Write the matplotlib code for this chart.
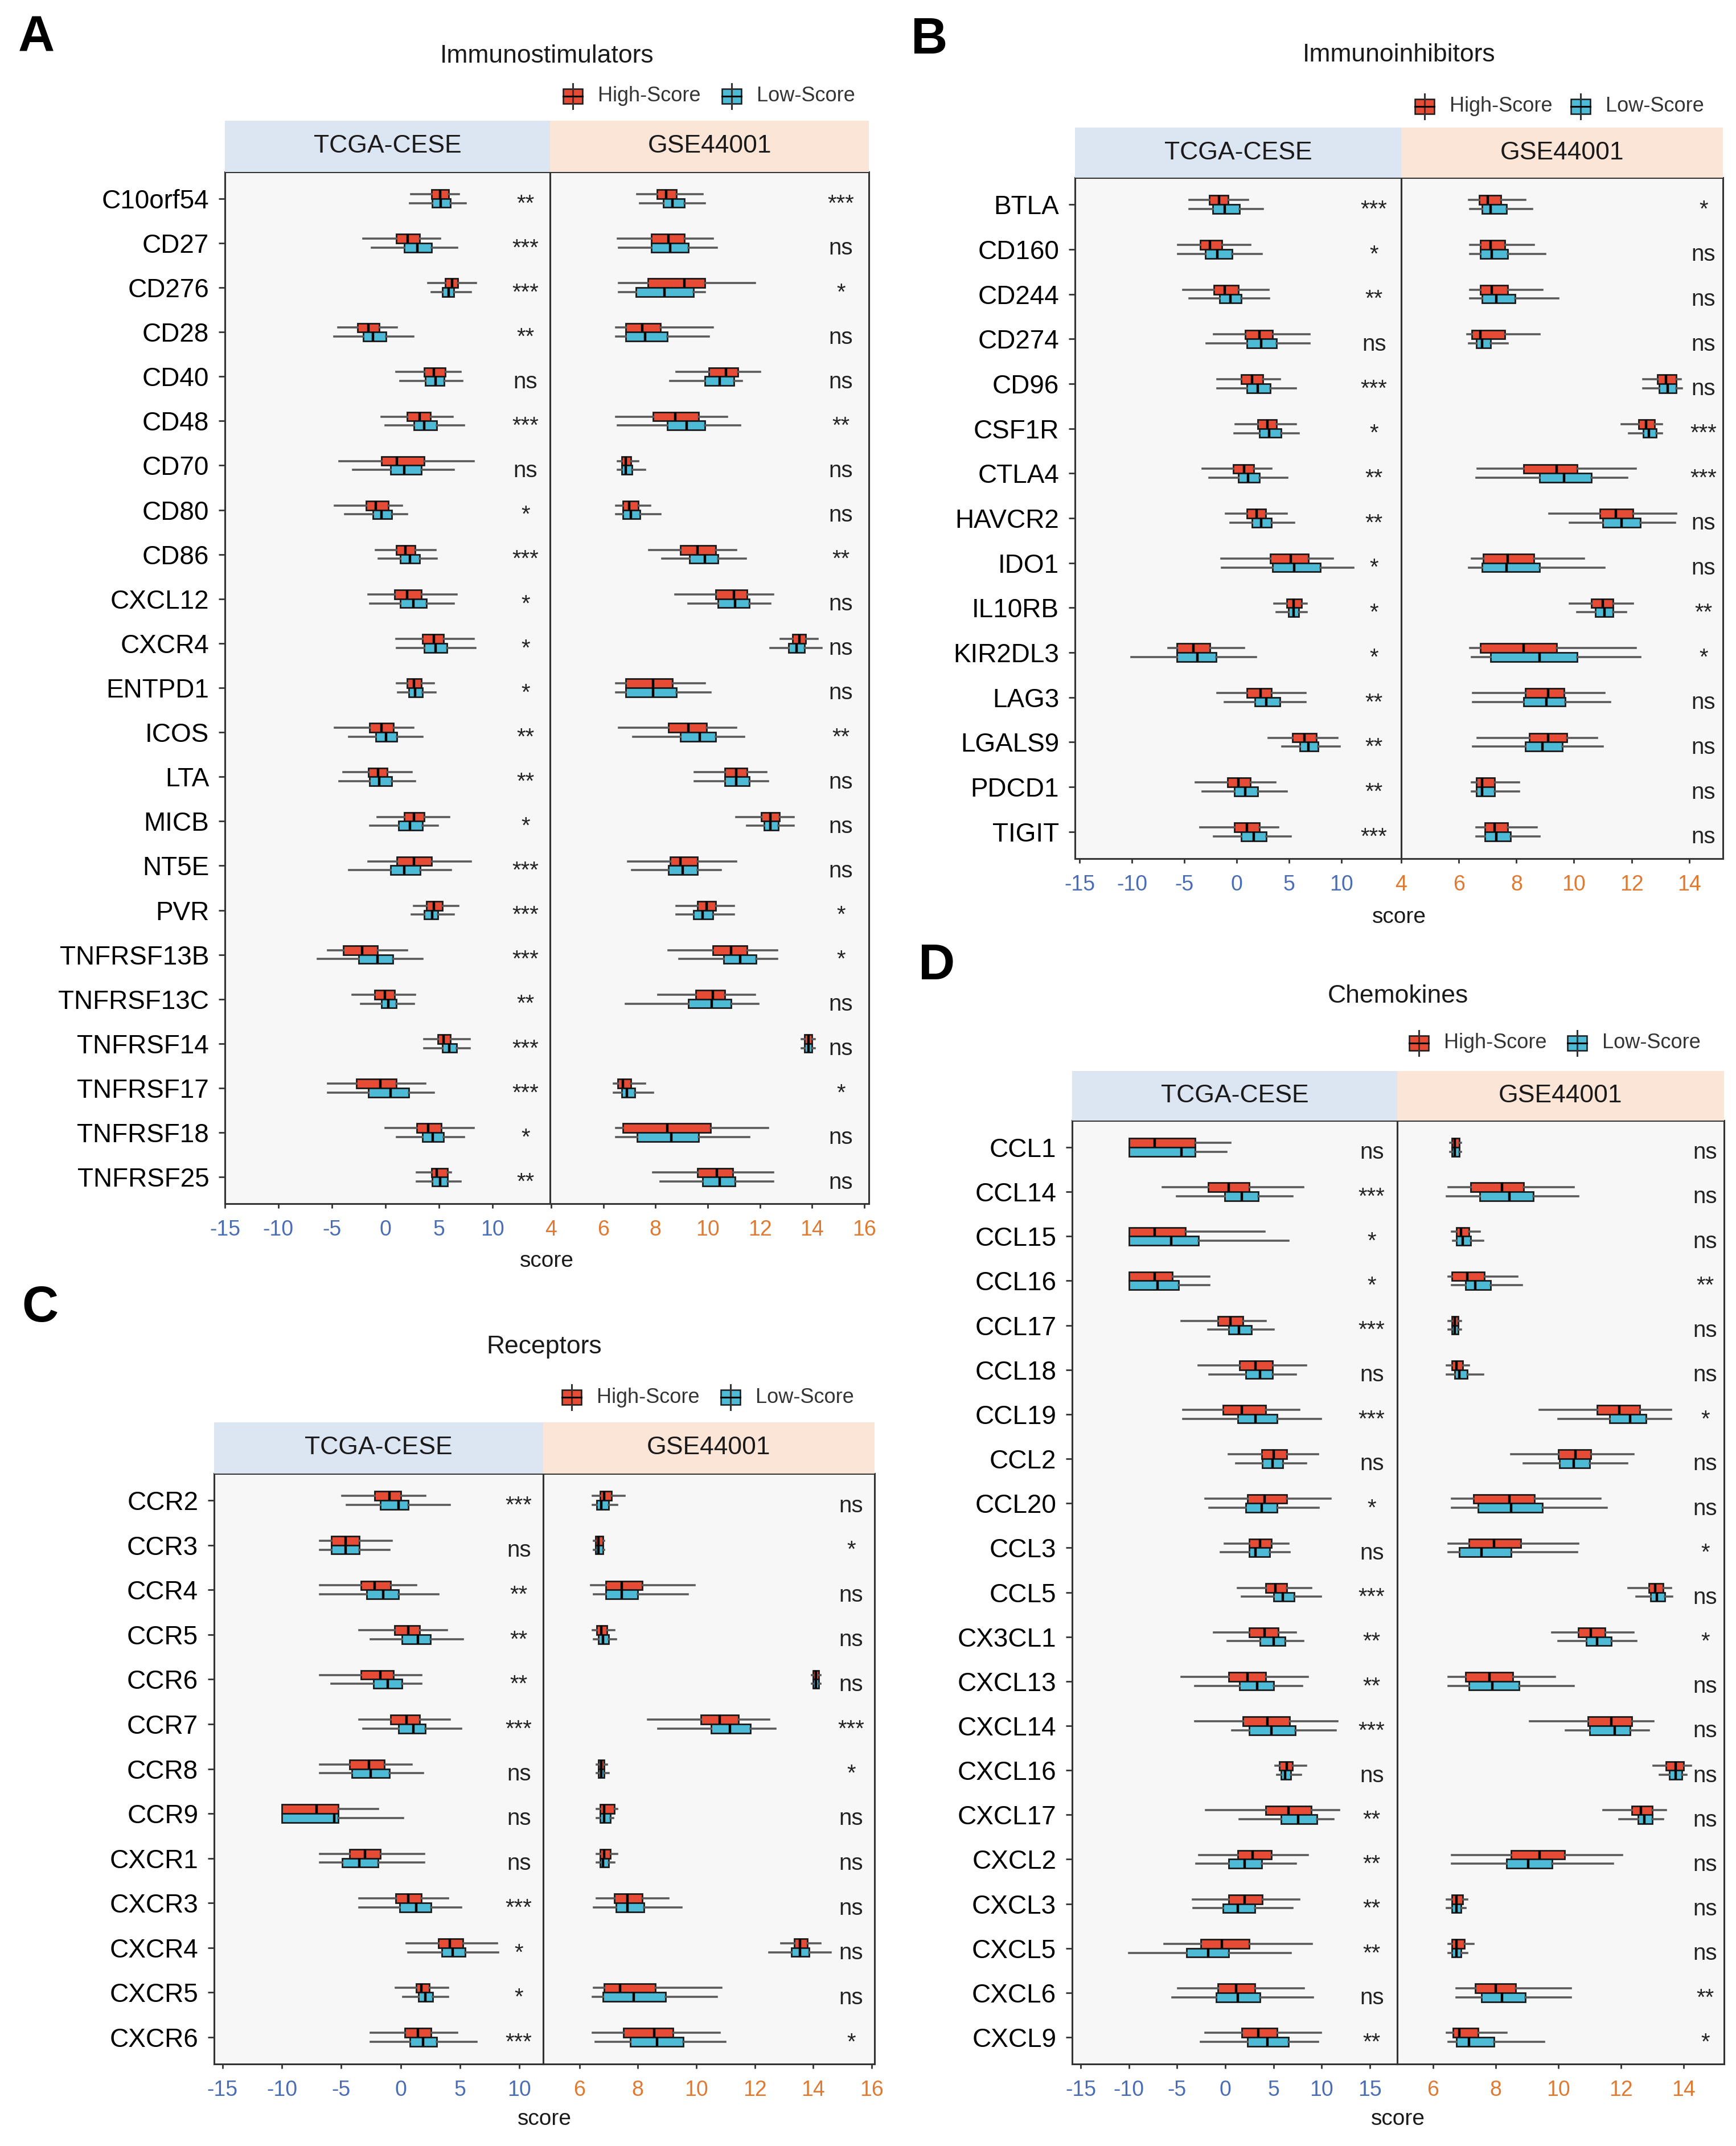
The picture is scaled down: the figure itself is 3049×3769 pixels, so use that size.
import numpy as np
import matplotlib
matplotlib.use('Agg')
import matplotlib.pyplot as plt
from matplotlib.patches import Rectangle
from matplotlib.lines import Line2D

plt.rcParams['font.family'] = ['Liberation Sans', 'DejaVu Sans']
plt.rcParams['axes.unicode_minus'] = False

# ---------------- DATA (lo whisker, Q1, median, Q3, hi whisker) ----------------
A_GENES = ["C10orf54", "CD27", "CD276", "CD28", "CD40", "CD48", "CD70", "CD80", "CD86",
           "CXCL12", "CXCR4", "ENTPD1", "ICOS", "LTA", "MICB", "NT5E", "PVR", "TNFRSF13B",
           "TNFRSF13C", "TNFRSF14", "TNFRSF17", "TNFRSF18", "TNFRSF25"]
A_SIG_TCGA = ["**", "***", "***", "**", "ns", "***", "ns", "*", "***", "*", "*", "*", "**", "**",
              "*", "***", "***", "***", "**", "***", "***", "*", "**"]
A_SIG_GSE = ["***", "ns", "*", "ns", "ns", "**", "ns", "ns", "**", "ns", "ns", "ns", "**", "ns",
             "ns", "ns", "*", "*", "ns", "ns", "*", "ns", "ns"]
A_TCGA_HIGH = [(2.4, 4.3, 5.1, 5.9, 6.9), (-2.05, 1.0, 2.1, 3.2, 5.1), (4.0, 5.6, 6.25, 6.8, 8.5),
               (-4.4, -2.6, -1.6, -0.57, 1.1), (1.0, 3.65, 4.55, 5.6, 7.05), (-0.35, 2.05, 3.2, 4.2, 6.3),
               (-4.3, -0.35, 1.1, 3.65, 8.25), (-4.7, -1.8, -0.9, 0.3, 1.55), (-0.9, 1.0, 1.9, 2.8, 4.7),
               (-1.6, 0.85, 2.05, 3.35, 6.65), (1.0, 3.5, 4.55, 5.45, 8.25), (1.1, 2.05, 2.7, 3.35, 4.55),
               (-4.7, -1.5, -0.35, 0.75, 2.6), (-3.9, -1.6, -0.7, 0.15, 2.45), (-0.75, 1.75, 2.7, 3.65, 5.95),
               (-1.6, 1.1, 2.7, 4.3, 8.0), (2.7, 3.85, 4.55, 5.35, 6.85), (-5.35, -3.9, -2.15, -0.73, 2.05),
               (-3.1, -1.0, -0.05, 0.85, 2.8), (3.65, 4.9, 5.45, 6.1, 7.9), (-5.35, -2.7, -0.45, 1.0, 3.75),
               (0.0, 2.95, 4.0, 5.25, 8.25), (2.95, 4.3, 4.8, 5.8, 6.15)]
A_TCGA_LOW = [(2.3, 4.4, 5.2, 6.1, 7.5), (-1.25, 1.75, 3.0, 4.3, 6.7), (4.3, 5.35, 5.9, 6.4, 8.0),
              (-4.8, -2.05, -1.15, 0.06, 2.6), (1.4, 3.75, 4.7, 5.5, 7.2), (0.0, 2.7, 3.65, 4.8, 7.35),
              (-3.0, 0.5, 1.75, 3.35, 6.4), (-3.75, -1.15, -0.35, 0.6, 2.05), (-0.6, 1.4, 2.3, 3.2, 4.8),
              (-1.4, 1.4, 2.6, 3.85, 6.4), (1.1, 3.65, 4.7, 5.75, 8.4), (1.2, 2.2, 2.8, 3.5, 4.7),
              (-3.4, -0.9, 0.05, 1.1, 3.5), (-4.3, -1.5, -0.55, 0.6, 2.8), (-1.4, 1.25, 2.3, 3.5, 4.9),
              (-3.4, 0.5, 1.75, 3.25, 6.15), (2.45, 3.65, 4.4, 4.9, 6.4), (-6.3, -2.5, -0.75, 0.7, 3.5),
              (-2.3, -0.35, 0.3, 1.0, 2.7), (3.65, 5.35, 6.0, 6.65, 7.9), (-5.35, -1.6, 0.5, 2.2, 4.55),
              (1.1, 3.5, 4.45, 5.45, 7.35), (2.95, 4.4, 5.1, 5.8, 7.05)]
A_GSE_HIGH = [(7.3, 8.05, 8.4, 8.8, 9.8), (6.55, 7.85, 8.5, 9.1, 10.2), (6.6, 7.7, 9.1, 9.9, 11.8),
              (6.5, 6.85, 7.5, 8.2, 10.2), (8.8, 10.05, 10.7, 11.15, 12.0), (6.5, 7.9, 8.75, 9.65, 10.75),
              (6.55, 6.7, 6.85, 7.05, 7.35), (6.5, 6.75, 7.0, 7.35, 7.8), (7.75, 8.95, 9.6, 10.3, 11.1),
              (8.75, 10.3, 11.0, 11.5, 12.5), (12.8, 13.25, 13.5, 13.75, 14.2), (6.5, 6.85, 7.9, 8.65, 9.9),
              (6.6, 8.5, 9.25, 9.95, 11.1), (9.5, 10.65, 11.1, 11.5, 12.25), (11.1, 12.05, 12.4, 12.75, 13.3),
              (6.95, 8.55, 8.95, 9.6, 11.1), (8.8, 9.6, 9.95, 10.3, 11.0), (8.5, 10.2, 10.9, 11.5, 12.65),
              (8.1, 9.55, 10.2, 10.65, 11.8), (13.6, 13.7, 13.85, 14.0, 14.1), (6.4, 6.55, 6.75, 7.05, 7.6),
              (6.5, 6.75, 8.45, 10.1, 12.3), (7.9, 9.6, 10.35, 10.95, 12.5)]
A_GSE_LOW = [(7.4, 8.3, 8.65, 9.1, 9.9), (6.6, 7.85, 8.55, 9.25, 10.35), (6.6, 7.25, 8.35, 9.45, 9.9),
             (6.5, 6.85, 7.6, 8.45, 10.05), (8.55, 9.9, 10.45, 11.0, 11.3), (6.55, 8.45, 9.2, 9.9, 11.25),
             (6.55, 6.7, 6.85, 7.1, 7.6), (6.5, 6.75, 7.05, 7.4, 8.2), (8.25, 9.3, 9.9, 10.4, 11.45),
             (9.25, 10.4, 11.05, 11.6, 12.4), (12.4, 13.1, 13.4, 13.7, 14.35), (6.5, 6.85, 7.9, 8.8, 10.1),
             (7.15, 8.95, 9.7, 10.3, 11.4), (9.5, 10.65, 11.1, 11.6, 12.3), (11.5, 12.15, 12.4, 12.7, 13.3),
             (7.1, 8.5, 9.05, 9.6, 10.5), (8.8, 9.45, 9.8, 10.2, 11.0), (8.9, 10.6, 11.25, 11.85, 12.65),
             (6.85, 9.25, 10.15, 10.9, 11.95), (13.6, 13.7, 13.85, 14.0, 14.1), (6.4, 6.7, 6.9, 7.2, 7.9),
             (6.5, 7.3, 8.6, 9.65, 11.6), (8.2, 9.8, 10.45, 11.05, 12.5)]

B_GENES = ["BTLA", "CD160", "CD244", "CD274", "CD96", "CSF1R", "CTLA4", "HAVCR2", "IDO1",
           "IL10RB", "KIR2DL3", "LAG3", "LGALS9", "PDCD1", "TIGIT"]
B_SIG_TCGA = ["***", "*", "**", "ns", "***", "*", "**", "**", "*", "*", "*", "**", "**", "**", "***"]
B_SIG_GSE = ["*", "ns", "ns", "ns", "ns", "***", "***", "ns", "ns", "**", "*", "ns", "ns", "ns", "ns"]
B_TCGA_HIGH = [(-4.55, -2.6, -1.7, -0.8, 1.1), (-5.6, -3.5, -2.55, -1.4, 1.3), (-5.1, -2.2, -1.15, 0.15, 3.05),
               (-2.2, 0.8, 2.15, 3.4, 6.95), (-1.85, 0.4, 1.45, 2.5, 4.1), (-0.1, 2.0, 2.9, 3.8, 5.65),
               (-3.25, -0.35, 0.7, 1.6, 3.3), (-1.05, 0.95, 1.9, 2.75, 4.75), (-1.5, 3.2, 5.15, 6.85, 9.15),
               (3.55, 4.75, 5.4, 6.2, 6.7), (-6.55, -5.7, -4.15, -2.55, 0.7), (-1.85, 0.95, 2.25, 3.3, 6.55),
               (3.05, 5.3, 6.45, 7.6, 9.6), (-3.9, -0.9, 0.15, 1.3, 3.7), (-3.5, -0.25, 0.95, 2.15, 3.95)]
B_TCGA_LOW = [(-4.55, -2.3, -1.15, 0.25, 2.5), (-5.6, -3.0, -1.85, -0.45, 2.4), (-4.55, -1.65, -0.6, 0.4, 3.1),
              (-2.9, 0.95, 2.35, 3.8, 6.95), (-1.85, 0.95, 2.0, 3.2, 5.65), (-0.25, 2.15, 3.1, 4.25, 5.9),
              (-2.6, 0.15, 1.1, 2.15, 4.85), (-0.6, 1.45, 2.35, 3.3, 5.5), (-1.4, 3.4, 5.5, 8.0, 11.15),
              (3.8, 4.95, 5.4, 5.9, 6.7), (-10.05, -5.7, -3.75, -1.95, 1.85), (-1.15, 1.75, 2.8, 4.1, 6.55),
              (4.35, 6.0, 6.85, 7.75, 9.85), (-3.25, -0.25, 0.8, 2.0, 4.75), (-2.2, 0.4, 1.6, 2.8, 5.15)]
B_GSE_HIGH = [(6.35, 6.7, 7.0, 7.45, 8.3), (6.4, 6.75, 7.1, 7.6, 8.6), (6.4, 6.75, 7.15, 7.7, 8.9),
              (6.3, 6.45, 6.75, 7.6, 8.8), (12.4, 12.9, 13.2, 13.55, 13.7), (11.65, 12.25, 12.5, 12.8, 13.05),
              (6.65, 8.25, 9.4, 10.1, 12.15), (9.15, 10.9, 11.45, 12.05, 13.55), (6.45, 6.85, 7.7, 8.6, 10.35),
              (9.85, 10.6, 11.0, 11.35, 12.05), (6.4, 6.75, 8.25, 9.4, 12.15), (6.5, 8.3, 9.1, 9.65, 11.05),
              (6.65, 8.45, 9.1, 9.75, 10.8), (6.45, 6.6, 6.8, 7.25, 8.1), (6.6, 6.9, 7.25, 7.7, 8.7)]
B_GSE_LOW = [(6.4, 6.8, 7.1, 7.65, 8.55), (6.4, 6.75, 7.15, 7.7, 9.0), (6.4, 6.8, 7.3, 7.95, 9.45),
             (6.35, 6.6, 6.8, 7.1, 7.7), (12.4, 12.95, 13.25, 13.55, 13.75), (11.9, 12.4, 12.6, 12.85, 13.05),
             (6.6, 8.8, 9.65, 10.6, 11.85), (9.85, 11.0, 11.65, 12.3, 13.5), (6.35, 6.8, 7.65, 8.8, 11.05),
             (10.1, 10.75, 11.05, 11.35, 11.8), (6.45, 7.1, 8.8, 10.1, 12.3), (6.5, 8.25, 9.05, 9.7, 11.25),
             (6.5, 8.3, 8.9, 9.6, 11.0), (6.45, 6.6, 6.8, 7.25, 8.1), (6.6, 6.9, 7.3, 7.8, 8.8)]

C_GENES = ["CCR2", "CCR3", "CCR4", "CCR5", "CCR6", "CCR7", "CCR8", "CCR9", "CXCR1", "CXCR3",
           "CXCR4", "CXCR5", "CXCR6"]
C_SIG_TCGA = ["***", "ns", "**", "**", "**", "***", "ns", "ns", "ns", "***", "*", "*", "***"]
C_SIG_GSE = ["ns", "*", "ns", "ns", "ns", "***", "*", "ns", "ns", "ns", "ns", "ns", "*"]
C_TCGA_HIGH = [(-4.9, -2.2, -0.95, 0.0, 2.1), (-6.8, -5.85, -4.65, -3.5, -0.75), (-6.8, -3.35, -2.2, -0.85, 1.3),
               (-3.5, -0.5, 0.65, 1.6, 3.9), (-6.8, -3.35, -1.7, -0.6, 1.75), (-3.5, -0.85, 0.5, 1.6, 4.15),
               (-6.8, -4.3, -2.65, -1.35, 0.95), (-10.0, -10.0, -7.05, -5.25, -1.9), (-6.8, -4.3, -3.0, -1.7, 2.0),
               (-3.5, -0.4, 0.65, 1.75, 4.0), (0.5, 3.2, 4.15, 5.25, 8.1), (-0.4, 1.3, 1.75, 2.4, 4.0),
               (-2.5, 0.35, 1.45, 2.55, 4.75)]
C_TCGA_LOW = [(-4.55, -1.7, -0.15, 0.65, 4.15), (-6.8, -5.85, -4.65, -3.5, -0.95), (-6.8, -2.85, -1.45, -0.15, 3.2),
              (-2.5, 0.1, 1.45, 2.5, 5.25), (-5.85, -2.3, -1.1, 0.1, 1.75), (-3.15, -0.15, 1.05, 2.1, 5.1),
              (-6.8, -4.1, -2.5, -0.95, 1.9), (-10.0, -10.0, -5.6, -5.25, 0.2), (-6.8, -4.9, -3.5, -1.9, 2.0),
              (-3.5, -0.1, 1.3, 2.55, 5.1), (0.65, 3.45, 4.4, 5.45, 8.2), (0.2, 1.5, 2.1, 2.7, 4.0),
              (-2.5, 0.8, 1.9, 3.05, 6.4)]
C_GSE_HIGH = [(6.45, 6.7, 6.85, 7.1, 7.55), (6.5, 6.55, 6.65, 6.8, 6.85), (6.4, 6.9, 7.45, 8.15, 9.95),
              (6.45, 6.6, 6.75, 6.95, 7.2), (13.95, 14.0, 14.1, 14.2, 14.25), (8.35, 10.15, 10.8, 11.45, 12.5),
              (6.6, 6.65, 6.75, 6.85, 6.95), (6.6, 6.7, 6.85, 7.2, 7.3), (6.6, 6.7, 6.85, 7.05, 7.3),
              (6.6, 7.2, 7.65, 8.15, 9.05), (12.9, 13.35, 13.55, 13.8, 14.25), (6.5, 6.85, 7.4, 8.6, 10.85),
              (6.45, 7.5, 8.55, 9.2, 10.8)]
C_GSE_LOW = [(6.45, 6.6, 6.75, 7.0, 7.3), (6.5, 6.55, 6.65, 6.8, 6.85), (6.5, 6.9, 7.45, 8.0, 9.7),
             (6.5, 6.65, 6.8, 7.0, 7.25), (13.95, 14.0, 14.1, 14.2, 14.25), (8.7, 10.5, 11.15, 11.85, 12.7),
             (6.6, 6.65, 6.75, 6.85, 7.0), (6.6, 6.7, 6.85, 7.05, 7.15), (6.6, 6.7, 6.8, 7.0, 7.2),
             (6.5, 7.25, 7.65, 8.2, 9.5), (12.5, 13.25, 13.55, 13.85, 14.6), (6.45, 6.8, 7.85, 8.95, 10.7),
             (6.55, 7.75, 8.65, 9.55, 11.0)]

D_GENES = ["CCL1", "CCL14", "CCL15", "CCL16", "CCL17", "CCL18", "CCL19", "CCL2", "CCL20", "CCL3",
           "CCL5", "CX3CL1", "CXCL13", "CXCL14", "CXCL16", "CXCL17", "CXCL2", "CXCL3", "CXCL5",
           "CXCL6", "CXCL9"]
D_SIG_TCGA = ["ns", "***", "*", "*", "***", "ns", "***", "ns", "*", "ns", "***", "**", "**", "***",
              "ns", "**", "**", "**", "**", "ns", "**"]
D_SIG_GSE = ["ns", "ns", "ns", "**", "ns", "ns", "*", "ns", "ns", "*", "ns", "*", "ns", "ns", "ns",
             "ns", "ns", "ns", "ns", "**", "*"]
D_TCGA_HIGH = [(-10.0, -10.0, -7.35, -3.15, 0.5), (-6.5, -1.8, 0.35, 2.45, 8.1), (-10.0, -10.0, -7.35, -4.15, 4.05),
               (-10.0, -10.0, -7.35, -5.5, -1.65), (-4.55, -0.8, 0.5, 1.85, 4.2), (-2.8, 1.5, 3.15, 4.9, 8.4),
               (-4.35, -0.25, 1.7, 4.2, 7.7), (0.35, 3.75, 5.0, 6.35, 9.6), (-2.1, 2.3, 4.05, 6.35, 10.9),
               (-0.05, 2.45, 3.6, 4.8, 6.55), (1.3, 4.2, 5.2, 6.35, 8.9), (-1.2, 2.45, 4.05, 5.5, 7.35),
               (-4.55, 0.35, 2.3, 4.2, 8.55), (-3.15, 1.85, 4.35, 6.65, 11.65), (5.2, 5.6, 6.35, 6.95, 8.4),
               (-2.0, 4.2, 6.55, 8.9, 11.8), (-2.7, 1.3, 2.85, 4.8, 8.55), (-3.4, 0.35, 2.0, 3.85, 7.7),
               (-6.3, -2.55, -0.35, 2.45, 9.0), (-4.9, -0.8, 1.1, 3.05, 8.15), (-2.1, 1.7, 3.45, 5.4, 9.9)]
D_TCGA_LOW = [(-10.0, -10.0, -4.55, -3.15, 0.1), (-5.0, -0.05, 1.7, 3.45, 6.95), (-10.0, -10.0, -5.6, -2.8, 6.55),
              (-10.0, -10.0, -7.05, -4.85, -1.65), (-1.8, 0.35, 1.4, 2.7, 5.0), (-1.65, 2.1, 3.6, 4.9, 7.35),
              (-4.35, 1.3, 3.15, 5.4, 9.9), (1.1, 3.85, 4.9, 5.95, 8.4), (-1.65, 2.1, 3.75, 5.4, 9.7),
              (-0.45, 2.45, 3.15, 4.6, 6.65), (1.7, 5.0, 5.95, 7.15, 9.9), (0.25, 3.6, 5.0, 6.2, 8.1),
              (-3.15, 1.5, 3.3, 5.0, 7.95), (0.7, 2.45, 4.8, 7.25, 11.45), (5.4, 5.8, 6.2, 6.8, 7.85),
              (1.5, 5.8, 7.55, 9.5, 11.2), (-3.0, 0.35, 2.0, 3.75, 7.35), (-3.3, -0.25, 1.3, 3.05, 6.95),
              (-10.0, -4.0, -1.8, 0.35, 6.8), (-5.5, -0.95, 1.3, 3.6, 9.1), (-2.55, 2.3, 4.35, 6.55, 9.6)]
D_GSE_HIGH = [(6.55, 6.6, 6.7, 6.85, 6.9), (6.5, 7.2, 8.2, 8.9, 10.5), (6.6, 6.75, 6.9, 7.15, 7.5),
              (6.5, 6.6, 7.1, 7.65, 8.7), (6.5, 6.6, 6.7, 6.8, 6.9), (6.45, 6.6, 6.75, 6.95, 7.15),
              (9.4, 11.25, 11.95, 12.6, 13.6), (8.5, 10.0, 10.55, 11.05, 12.4), (6.6, 7.3, 8.45, 9.25, 11.35),
              (6.5, 7.15, 7.95, 8.8, 10.65), (12.25, 12.9, 13.1, 13.35, 13.6), (9.8, 10.65, 11.05, 11.5, 12.4),
              (6.5, 7.05, 7.8, 8.55, 9.9), (9.1, 10.95, 11.7, 12.35, 13.05), (13.05, 13.45, 13.75, 14.0, 14.25),
              (11.45, 12.35, 12.65, 13.0, 13.45), (6.6, 8.5, 9.4, 10.2, 12.05), (6.45, 6.6, 6.75, 6.95, 7.1),
              (6.5, 6.6, 6.75, 7.0, 7.3), (6.75, 7.35, 8.0, 8.65, 10.4), (6.45, 6.65, 6.85, 7.45, 8.35)]
D_GSE_LOW = [(6.55, 6.6, 6.7, 6.85, 6.9), (6.45, 7.5, 8.45, 9.2, 10.65), (6.65, 6.75, 6.95, 7.2, 7.6),
             (6.6, 7.05, 7.35, 7.85, 8.85), (6.5, 6.6, 6.7, 6.8, 6.9), (6.45, 6.7, 6.85, 7.1, 7.6),
             (10.0, 11.65, 12.3, 12.8, 13.6), (8.9, 10.05, 10.5, 11.0, 12.2), (6.6, 7.45, 8.5, 9.5, 11.55),
             (6.5, 6.85, 7.55, 8.5, 10.6), (12.5, 12.95, 13.15, 13.4, 13.65), (10.0, 10.9, 11.25, 11.7, 12.5),
             (6.5, 7.15, 7.9, 8.75, 10.5), (10.25, 11.0, 11.8, 12.3, 12.9), (13.25, 13.55, 13.75, 13.95, 14.1),
             (11.95, 12.55, 12.75, 13.0, 13.35), (6.6, 8.35, 9.05, 9.8, 11.75), (6.45, 6.6, 6.75, 6.9, 7.05),
             (6.5, 6.6, 6.75, 6.9, 7.1), (6.75, 7.55, 8.2, 8.95, 10.4), (6.5, 6.75, 7.15, 7.95, 9.55)]

TITLES = ["Immunostimulators", "Immunoinhibitors", "Receptors", "Chemokines"]
DATASETS = ["TCGA-CESE", "GSE44001"]
GROUPS = ["High-Score", "Low-Score"]

# ---------------- STYLE ----------------
W, H = 3049, 3769
DPI = 100
RED = '#E64B35'
BLUE = '#4DBBD5'
STRIP_L = '#DCE5F2'
STRIP_R = '#FBE5D7'
TICK_L = '#4A6DB3'
TICK_R = '#DF7A33'
PANEL_BG = '#F7F7F7'
EDGE = '#333333'

fig = plt.figure(figsize=(W / DPI, H / DPI), dpi=DPI)
fig.patch.set_facecolor('white')


def fx(x):
    return x / W


def fy(y):
    return 1 - y / H


def add_axes_px(x0, x1, y0, y1):
    return fig.add_axes([fx(x0), fy(y1), fx(x1) - fx(x0), fy(y0) - fy(y1)])


def to_stats(rows):
    return [dict(whislo=r[0], q1=r[1], med=r[2], q3=r[3], whishi=r[4], fliers=[]) for r in rows]


def draw_side(ax, genes, high, low, sig, sig_x, xlim, ticks, tcol, show_y):
    n = len(genes)
    pos = np.arange(n)
    ax.set_facecolor(PANEL_BG)
    for rows, off, col in ((high, -0.1, RED), (low, 0.1, BLUE)):
        ax.bxp(to_stats(rows), positions=pos + off, widths=0.2, orientation='horizontal',
               patch_artist=True, showcaps=False, showfliers=False, manage_ticks=False,
               boxprops=dict(facecolor=col, edgecolor='#1a1a1a', linewidth=2.0),
               whiskerprops=dict(color='#5a5a5a', linewidth=2.6),
               medianprops=dict(color='black', linewidth=3.2))
    for i, s in enumerate(sig):
        ax.text(sig_x, i + 0.12, s, ha='center', va='center', fontsize=29, color='#222222')
    ax.set_ylim(n - 1 + 0.6, -0.6)
    ax.set_xlim(*xlim)
    ax.set_xticks(ticks)
    ax.set_xticklabels([str(t) for t in ticks])
    ax.tick_params(axis='x', length=6, width=2, color=EDGE, labelsize=27, labelcolor=tcol, pad=14)
    if show_y:
        ax.set_yticks(pos)
        ax.set_yticklabels(genes)
        ax.tick_params(axis='y', length=8, width=2, color=EDGE, labelsize=33, pad=12)
    else:
        ax.set_yticks([])
    for sp in ax.spines.values():
        sp.set_color(EDGE)
        sp.set_linewidth(2.2)


def legend_key(cx, cy, col):
    fig.add_artist(Line2D([fx(cx), fx(cx)], [fy(cy - 22), fy(cy + 22)], transform=fig.transFigure,
                          color='#333333', lw=2.2))
    fig.add_artist(Rectangle((fx(cx - 17), fy(cy + 13)), fx(34), 26 / H, transform=fig.transFigure,
                             facecolor=col, edgecolor='#1a1a1a', lw=1.8))
    fig.add_artist(Line2D([fx(cx - 17), fx(cx + 17)], [fy(cy), fy(cy)], transform=fig.transFigure,
                          color='black', lw=2.2))


def draw_panel(letter, title, genes, tcga_h, tcga_l, gse_h, gse_l, sig_t, sig_g, L):
    axl = add_axes_px(L['left'], L['split'], L['top'], L['bottom'])
    axr = add_axes_px(L['split'], L['right'], L['top'], L['bottom'])
    draw_side(axl, genes, tcga_h, tcga_l, sig_t, L['sigl'], L['xl'], L['tl'], TICK_L, True)
    draw_side(axr, genes, gse_h, gse_l, sig_g, L['sigr'], L['xr'], L['tr'], TICK_R, False)
    # strips
    st, tp = L['strip_top'], L['top']
    for x0, x1, col, lab in ((L['left'], L['split'], STRIP_L, DATASETS[0]),
                             (L['split'], L['right'], STRIP_R, DATASETS[1])):
        fig.add_artist(Rectangle((fx(x0), fy(tp)), fx(x1) - fx(x0), (tp - st) / H,
                                 transform=fig.transFigure, facecolor=col, edgecolor='none'))
        fig.text(fx((x0 + x1) / 2), fy((st + tp) / 2), lab, ha='center', va='center', fontsize=32,
                 color='#1a1a1a')
    # title
    fig.text(fx((L['left'] + L['right']) / 2), fy(L['title_y']), title, ha='center', va='center',
             fontsize=32, color='#1a1a1a')
    # legend
    ly = L['leg_y']
    legend_key(L['k1'], ly, RED)
    fig.text(fx(L['k1'] + 44), fy(ly), GROUPS[0], ha='left', va='center', fontsize=26, color='#333333')
    legend_key(L['k2'], ly, BLUE)
    fig.text(fx(L['k2'] + 44), fy(ly), GROUPS[1], ha='left', va='center', fontsize=26, color='#333333')
    # x label
    fig.text(fx((L['left'] + L['right']) / 2), fy(L['score_y']), 'score', ha='center', va='center',
             fontsize=28, color='#1a1a1a')
    # panel letter
    fig.text(fx(L['lx']), fy(L['ly']), letter, ha='center', va='center', fontsize=64,
             fontweight='bold', color='black')


LAYOUT_A = dict(left=395, split=966, right=1526, top=302, bottom=2114, strip_top=212, title_y=99,
                leg_y=169, k1=1006, k2=1285, score_y=2215, lx=64, ly=67,
                xl=(-15.0, 15.4), xr=(3.96, 16.17), tl=[-15, -10, -5, 0, 5, 10],
                tr=[4, 6, 8, 10, 12, 14, 16], sigl=13.1, sigr=15.1)
LAYOUT_B = dict(left=1888, split=2461, right=3026, top=312, bottom=1508, strip_top=224, title_y=97,
                leg_y=187, k1=2502, k2=2776, score_y=1611, lx=1632, ly=71,
                xl=(-15.45, 15.7), xr=(4.0, 15.17), tl=[-15, -10, -5, 0, 5, 10],
                tr=[4, 6, 8, 10, 12, 14], sigl=13.1, sigr=14.5)
LAYOUT_C = dict(left=376, split=954, right=1536, top=2588, bottom=3625, strip_top=2498, title_y=2365,
                leg_y=2454, k1=1004, k2=1283, score_y=3722, lx=70, ly=2298,
                xl=(-15.7, 12.0), xr=(4.76, 16.1), tl=[-15, -10, -5, 0, 5, 10],
                tr=[6, 8, 10, 12, 14, 16], sigl=9.95, sigr=15.3)
LAYOUT_D = dict(left=1883, split=2454, right=3028, top=1968, bottom=3625, strip_top=1881, title_y=1749,
                leg_y=1832, k1=2492, k2=2770, score_y=3722, lx=1645, ly=1697,
                xl=(-15.9, 17.84), xr=(4.86, 15.3), tl=[-15, -10, -5, 0, 5, 10, 15],
                tr=[6, 8, 10, 12, 14], sigl=15.2, sigr=14.7)

draw_panel('A', TITLES[0], A_GENES, A_TCGA_HIGH, A_TCGA_LOW, A_GSE_HIGH, A_GSE_LOW,
           A_SIG_TCGA, A_SIG_GSE, LAYOUT_A)
draw_panel('B', TITLES[1], B_GENES, B_TCGA_HIGH, B_TCGA_LOW, B_GSE_HIGH, B_GSE_LOW,
           B_SIG_TCGA, B_SIG_GSE, LAYOUT_B)
draw_panel('C', TITLES[2], C_GENES, C_TCGA_HIGH, C_TCGA_LOW, C_GSE_HIGH, C_GSE_LOW,
           C_SIG_TCGA, C_SIG_GSE, LAYOUT_C)
draw_panel('D', TITLES[3], D_GENES, D_TCGA_HIGH, D_TCGA_LOW, D_GSE_HIGH, D_GSE_LOW,
           D_SIG_TCGA, D_SIG_GSE, LAYOUT_D)

fig.savefig('out.png', dpi=DPI, facecolor='white')
